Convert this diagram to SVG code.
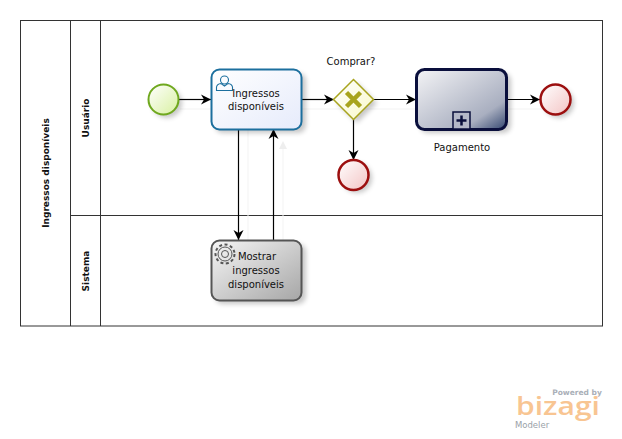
<svg xmlns="http://www.w3.org/2000/svg" width="622" height="439" viewBox="0 0 622 439">
<style>
text{font-family:"DejaVu Sans",Verdana,sans-serif;font-size:10px;fill:#111;text-anchor:middle}
.h{font-weight:bold;font-size:9px}
.pool{fill:none;stroke:#333;stroke-width:1}
.c{fill:none;stroke:#000;stroke-width:1.200;marker-end:url(#a)}
.f{fill:none;stroke:#f3f3f3;stroke-width:1}
.sh{fill:#000;opacity:.22;filter:url(#b)}
</style>
<defs>
<marker id="a" markerUnits="userSpaceOnUse" markerWidth="12" markerHeight="12" refX="10" refY="6" orient="auto"><path d="M0 1L10 6L0 11L3 6Z" fill="#000"/></marker>
<filter id="b" x="-30%" y="-30%" width="160%" height="160%"><feGaussianBlur stdDeviation="2.500"/></filter>
<linearGradient id="gs" x1="0" y1="0" x2="1" y2="1"><stop offset="0" stop-color="#fff"/><stop offset="1" stop-color="#d8f0a0"/></linearGradient>
<linearGradient id="ge" x1="0" y1="0" x2="1" y2="1"><stop offset="0" stop-color="#fff"/><stop offset="1" stop-color="#f3c4c4"/></linearGradient>
<linearGradient id="gu" x1="0" y1="0" x2="1" y2="1"><stop offset="0" stop-color="#fff"/><stop offset="1" stop-color="#e6ebfb"/></linearGradient>
<linearGradient id="gp" x1="0" y1="0" x2="1" y2="1"><stop offset="0" stop-color="#f4f4f6"/><stop offset=".75" stop-color="#a9afc0"/><stop offset="1" stop-color="#33466f"/></linearGradient>
<linearGradient id="gt" x1="0" y1="0" x2="1" y2="1"><stop offset="0" stop-color="#f6f6f6"/><stop offset="1" stop-color="#a6a6a6"/></linearGradient>
<linearGradient id="gg" x1="0" y1="0" x2="1" y2="1"><stop offset="0" stop-color="#fff"/><stop offset="1" stop-color="#f8f8c8"/></linearGradient>
</defs>
<rect width="622" height="439" fill="#fff"/>
<g id="pool">
<rect class="pool" x="20.500" y="20.500" width="582" height="305.500"/>
<path class="pool" d="M70.500 20.500V326M100.500 20.500V326M70.500 215.500H602.500"/>
<text class="h" transform="translate(49,173) rotate(-90)">Ingressos disponíveis</text>
<text class="h" transform="translate(89,118) rotate(-90)">Usuário</text>
<text class="h" transform="translate(89,271) rotate(-90)">Sistema</text>
</g>
<g id="connectors">
<path class="f" d="M180 109H560M248 130V240M283 240V143"/>
<path d="M279 149L283 141L287 149Z" fill="#eee"/>
<path class="c" d="M179 99.500H211"/>
<path class="c" d="M302 99.500H334"/>
<path class="c" d="M373 99.500H416"/>
<path class="c" d="M507 99.500H540"/>
<path class="c" d="M353.500 119V160"/>
<path class="c" d="M238.500 129V240"/>
<path class="c" d="M273.500 240V129"/>
</g>
<g id="start">
<circle class="sh" cx="167" cy="103" r="15"/>
<circle cx="163.500" cy="99.500" r="15" fill="url(#gs)" stroke="#6fa81e" stroke-width="2"/>
</g>
<g id="task-usuario">
<rect class="sh" x="215" y="73" width="91" height="60" rx="8"/>
<rect x="211.500" y="69.500" width="90" height="60" rx="8" fill="url(#gu)" stroke="#1c6f9e" stroke-width="2"/>
<g fill="none" stroke="#1c6f9e" stroke-width="1.100"><circle cx="224.500" cy="80" r="4"/><path d="M216.500 90.500V87Q217 84 221 83.500L224.500 86L228 83.500Q232 84 232.500 87V90.500Z"/></g>
<text x="256" y="97">Ingressos</text>
<text x="256" y="110">disponíveis</text>
</g>
<g id="gateway">
<path class="sh" d="M357 83L377 103L357 123L337 103Z"/>
<path d="M353.500 79.500L373.500 99.500L353.500 119.500L333.500 99.500Z" fill="url(#gg)" stroke="#a8a41e" stroke-width="1.500"/>
<path d="M346.500 92.500L360.500 106.500M360.500 92.500L346.500 106.500" stroke="#a8a41e" stroke-width="4.500"/>
<text x="351" y="65">Comprar?</text>
</g>
<g id="pagamento">
<rect class="sh" x="420" y="73" width="91" height="60" rx="8"/>
<rect x="416.500" y="69.500" width="90" height="60" rx="8" fill="url(#gp)" stroke="#0a0f3c" stroke-width="3"/>
<rect x="453" y="112" width="17" height="17" fill="#b4b8c8" stroke="#0a0f3c" stroke-width="1.500"/>
<path d="M461.500 115.500V125.500M456.500 120.500H466.500" stroke="#0a0f3c" stroke-width="2.500"/>
<text x="462" y="151">Pagamento</text>
</g>
<g id="end-1">
<circle class="sh" cx="559" cy="103" r="15"/>
<circle cx="555.500" cy="99.500" r="15" fill="url(#ge)" stroke="#9c0f0f" stroke-width="2.500"/>
</g>
<g id="end-2">
<circle class="sh" cx="357" cy="178" r="15"/>
<circle cx="353.500" cy="175" r="15" fill="url(#ge)" stroke="#9c0f0f" stroke-width="2.500"/>
</g>
<g id="task-sistema">
<rect class="sh" x="215" y="244" width="91" height="60" rx="8"/>
<rect x="211.500" y="240.500" width="90" height="60" rx="8" fill="url(#gt)" stroke="#555" stroke-width="2"/>
<g fill="none" stroke="#555" stroke-width="1"><circle cx="225" cy="254" r="3.500"/><circle cx="225" cy="254" r="7"/><circle cx="225" cy="254" r="9.500" stroke-dasharray="3 2.500" stroke-width="2"/></g>
<text x="257" y="260">Mostrar</text>
<text x="256" y="274">ingressos</text>
<text x="256" y="288">disponíveis</text>
</g>
<g id="logo">
<text x="577" y="395" style="font-size:7.500px;font-weight:bold;fill:#aab0b8">Powered by</text>
<text x="558" y="415" textLength="84" lengthAdjust="spacingAndGlyphs" style="font-family:'Open Sans',sans-serif;font-size:26px;font-weight:600;fill:#f8c592">bizagi</text>
<text x="532" y="428" style="font-size:8.500px;fill:#9aa2a8">Modeler</text>
</g>
</svg>
